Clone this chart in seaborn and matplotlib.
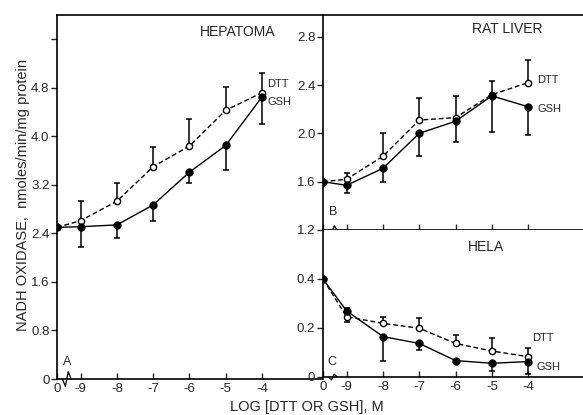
import matplotlib
matplotlib.use('Agg')
import matplotlib.pyplot as plt
import seaborn as sns

# log concentration of DTT or GSH; the first point of every series is the
# control (no thiol added), drawn at the "0" tick left of the axis break
log_conc = [-9, -8, -7, -6, -5, -4]
x_ticklabels = ['0', '-9', '-8', '-7', '-6', '-5', '-4']

# A: hepatoma
hep_dtt = [2.50, 2.61, 2.93, 3.50, 3.84, 4.43, 4.72]
hep_dtt_err = [0.32, 0.30, 0.32, 0.44, 0.38, 0.33]
hep_gsh = [2.50, 2.51, 2.54, 2.87, 3.41, 3.85, 4.65]
hep_gsh_err = [0.33, 0.22, 0.26, 0.18, 0.41, 0.44]

# B: rat liver
liv_dtt = [1.60, 1.62, 1.81, 2.11, 2.13, 2.32, 2.42]
liv_dtt_err = [0.05, 0.19, 0.18, 0.18, 0.11, 0.19]
liv_gsh = [1.60, 1.57, 1.71, 2.00, 2.10, 2.31, 2.22]
liv_gsh_err = [0.06, 0.11, 0.19, 0.17, 0.30, 0.23]

# C: HeLa
hela_dtt = [0.40, 0.246, 0.219, 0.199, 0.137, 0.106, 0.083]
hela_dtt_err = [0.034, 0.027, 0.041, 0.034, 0.052, 0.037]
hela_gsh = [0.40, 0.27, 0.165, 0.137, 0.067, 0.056, 0.063]
hela_gsh_err = [0.044, 0.10, 0.027, 0.0, 0.03, 0.05]

hep_yticks = [0, 0.8, 1.6, 2.4, 3.2, 4.0, 4.8, 5.6]
hep_ylabels = ['0', '0.8', '1.6', '2.4', '3.2', '4.0', '4.8', '']
liv_yticks = [1.2, 1.6, 2.0, 2.4, 2.8]
hela_yticks = [0, 0.2, 0.4]
hela_ylabels = ['0', '0.2', '0.4']

CTRL_X = -9.65   # where the control sits, left of the axis break
BREAK_X = -9.38

sns.set_style('ticks')
plt.rcParams['font.family'] = ['Liberation Sans', 'DejaVu Sans']
plt.rcParams['font.size'] = 9.5

fig = plt.figure(figsize=(5.83, 4.15), dpi=100)
axA = fig.add_axes([0.0978, 0.0867, 0.4562, 0.8772])
axB = fig.add_axes([0.554, 0.4458, 0.446, 0.5182])
axC = fig.add_axes([0.554, 0.0916, 0.446, 0.3542])

xs = [CTRL_X] + log_conc


def draw(ax, dtt, dtt_err, gsh, gsh_err):
    ax.errorbar(log_conc, dtt[1:], yerr=[[0] * len(dtt_err), dtt_err], fmt='none',
                ecolor='black', elinewidth=1.1, capsize=2.5, capthick=1.1, zorder=2)
    ax.errorbar(log_conc, gsh[1:], yerr=[gsh_err, [0] * len(gsh_err)], fmt='none',
                ecolor='black', elinewidth=1.1, capsize=2.5, capthick=1.1, zorder=2)
    sns.lineplot(x=xs, y=dtt, ax=ax, color='black', linewidth=1.0, dashes=False,
                 linestyle=(0, (3.5, 2)), marker='o', markersize=4.5,
                 markerfacecolor='white', markeredgecolor='black',
                 markeredgewidth=1.0, zorder=3)
    sns.lineplot(x=xs, y=gsh, ax=ax, color='black', linewidth=1.0,
                 marker='o', markersize=5, markerfacecolor='black',
                 markeredgecolor='black', markeredgewidth=1.0, zorder=4)


def axis_break(ax, ypos):
    tr = ax.get_xaxis_transform()
    ax.plot([BREAK_X - 0.12, BREAK_X - 0.04, BREAK_X + 0.04, BREAK_X + 0.12],
            [ypos, ypos - 0.02, ypos + 0.02, ypos], color='black', lw=0.9,
            transform=tr, clip_on=False, zorder=5)


draw(axA, hep_dtt, hep_dtt_err, hep_gsh, hep_gsh_err)
draw(axB, liv_dtt, liv_dtt_err, liv_gsh, liv_gsh_err)
draw(axC, hela_dtt, hela_dtt_err, hela_gsh, hela_gsh_err)

axA.set_xlim(CTRL_X, -2.32)
axA.set_ylim(0, 6.0)
axA.set_yticks(hep_yticks)
axA.set_yticklabels(hep_ylabels)
axA.set_xticks(xs)
axA.set_xticklabels(x_ticklabels)

axB.set_xlim(CTRL_X, -2.49)
axB.set_ylim(1.2, 2.98)
axB.set_yticks(liv_yticks)
axB.set_xticks(xs)
axB.set_xticklabels([])

axC.set_xlim(CTRL_X, -2.49)
axC.set_ylim(0, 0.6)
axC.set_yticks(hela_yticks)
axC.set_yticklabels(hela_ylabels)
axC.set_xticks(xs)
axC.set_xticklabels(x_ticklabels)

for ax in (axA, axB, axC):
    ax.tick_params(axis='x', direction='in', length=4, width=1, pad=3, labelsize=9.5)
    ax.tick_params(axis='y', direction='out', length=4, width=1, pad=1.5, labelsize=9.5)
    for s in ax.spines.values():
        s.set_linewidth(1.2)
        s.set_color('black')
    ax.spines['right'].set_visible(False)
    ax.set_xlabel('')
    ax.set_ylabel('')
axA.spines['top'].set_visible(True)
axB.spines['top'].set_visible(True)
axC.spines['top'].set_visible(False)

axis_break(axA, 0)
axis_break(axB, 0)
axis_break(axC, 0)

axA.text(0.68, 0.953, 'HEPATOMA', transform=axA.transAxes, ha='center', va='center', fontsize=10)
axB.text(0.71, 0.935, 'RAT LIVER', transform=axB.transAxes, ha='center', va='center', fontsize=10)
axC.text(0.627, 0.884, 'HELA', transform=axC.transAxes, ha='center', va='center', fontsize=10)

axA.text(0.038, 0.047, 'A', transform=axA.transAxes, ha='center', va='center', fontsize=9)
axB.text(0.038, 0.083, 'B', transform=axB.transAxes, ha='center', va='center', fontsize=9)
axC.text(0.035, 0.10, 'C', transform=axC.transAxes, ha='center', va='center', fontsize=9)

axA.text(-3.86, 4.87, 'DTT', ha='left', va='center', fontsize=8)
axA.text(-3.84, 4.57, 'GSH', ha='left', va='center', fontsize=8)
axB.text(-3.75, 2.44, 'DTT', ha='left', va='center', fontsize=8)
axB.text(-3.75, 2.20, 'GSH', ha='left', va='center', fontsize=8)
axC.text(-3.89, 0.159, 'DTT', ha='left', va='center', fontsize=8)
axC.text(-3.78, 0.04, 'GSH', ha='left', va='center', fontsize=8)

fig.text(0.039, 0.53, 'NADH OXIDASE,  nmoles/min/mg protein', rotation=90,
         ha='center', va='center', fontsize=10.5)
fig.text(0.527, 0.019, 'LOG [DTT OR GSH], M', ha='center', va='center', fontsize=10.5)

fig.savefig('out.png', dpi=100)
